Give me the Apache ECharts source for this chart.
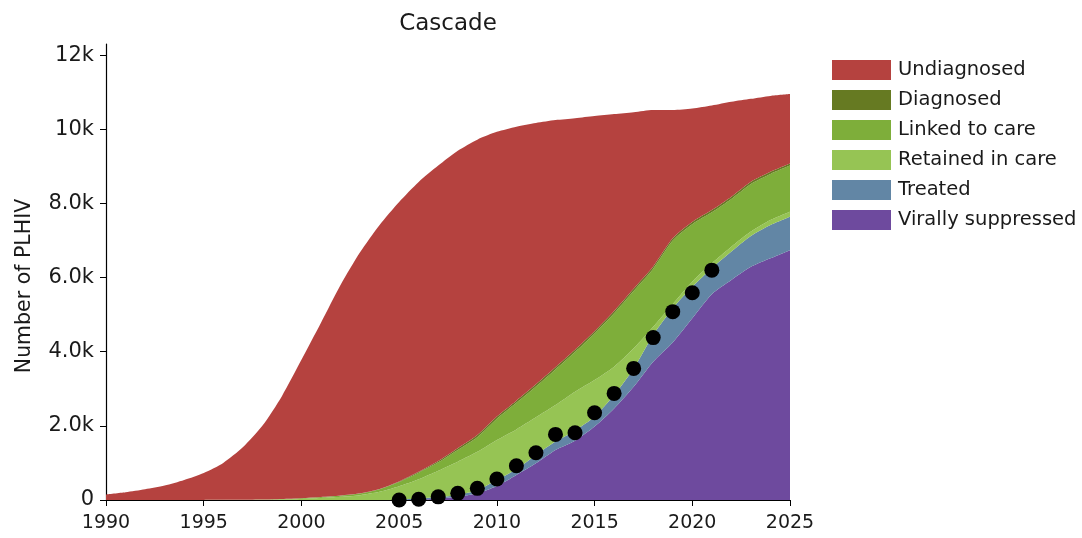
<!DOCTYPE html>
<html>
<head>
<meta charset="utf-8">
<script src="https://cdn.jsdelivr.net/npm/echarts@6/dist/echarts.min.js"></script>
<style>
html,body{margin:0;padding:0;background:#fff;}
#chart{width:1082px;height:538px;}
</style>
</head>
<body>
<div id="chart"></div>
<script>
const years = [1990,1991,1992,1993,1994,1995,1996,1997,1998,1999,2000,2001,2002,2003,2004,2005,2006,2007,2008,2009,2010,2011,2012,2013,2014,2015,2016,2017,2018,2019,2020,2021,2022,2023,2024,2025];
const virallySuppressed = [0,0,0,0,0,0,0,0,0,0,0,0,0,0,0,0,10,40,90,180,375,675,990,1350,1600,1980,2470,3055,3730,4250,4900,5550,5935,6290,6520,6740];
const treated = [0,0,0,0,0,0,0,0,0,0,0,0,0,0,0,10,30,40,45,90,165,155,225,225,270,270,360,495,720,920,850,700,765,830,895,900];
const retained = [0,0,0,0,0,1,2,4,8,15,30,55,85,130,220,360,520,710,900,1030,1080,1075,1015,985,1050,985,765,540,225,120,140,135,130,120,135,135];
const linked = [0,0,0,0,0,1,2,4,7,15,20,25,33,45,72,113,175,225,315,395,570,715,830,960,1070,1255,1445,1550,1565,1710,1550,1375,1290,1285,1245,1245];
const diagnosed = [0,0,0,0,0,0,0,0,0,0,0,0,2,5,8,17,25,35,45,55,60,60,60,60,60,60,60,60,60,60,60,60,60,60,60,60];
const undiagnosed = [150,210,290,390,540,728,996,1412,1985,2770,3730,4700,5680,6500,7120,7540,7820,7970,8025,7970,7680,7390,7050,6670,6250,5810,5310,4760,4220,3460,3060,2820,2560,2235,2045,1870];
const dataYears = [2005,2006,2007,2008,2009,2010,2011,2012,2013,2014,2015,2016,2017,2018,2019,2020,2021];
const dataValues = [0,20,85,180,315,565,925,1275,1770,1815,2355,2875,3550,4380,5080,5590,6200];
const yTicks = [0,2000,4000,6000,8000,10000,12000];

const names = ['Virally suppressed','Treated','Retained in care','Linked to care','Diagnosed','Undiagnosed'];
const colors = ['#6e4a9e','#6286a5','#96c454','#7eae3a','#667a22','#b5423f'];
const arrays = [virallySuppressed, treated, retained, linked, diagnosed, undiagnosed];

const FONT = 'DejaVu Sans';
const cats = years.map(String);
const series = arrays.map((arr, i) => ({
  name: names[i],
  type: 'line',
  stack: 'total',
  data: arr.slice(),
  symbol: 'none',
  showSymbol: false,
  smooth: 0.25,
  lineStyle: {width: 0},
  areaStyle: {color: colors[i], opacity: 1},
  itemStyle: {color: colors[i]},
  z: 2
}));
series.push({
  name: 'Data',
  type: 'scatter',
  data: dataYears.map((y, j) => [String(y), dataValues[j]]),
  symbolSize: 15,
  clip: true,
  itemStyle: {color: '#000', opacity: 1},
  z: 5
});

function fmtY(v){
  if (v === 0) return '0';
  if (v >= 10000) return (v/1000).toFixed(0) + 'k';
  return (v/1000).toFixed(1) + 'k';
}

const chart = echarts.init(document.getElementById('chart'), null, {renderer: 'canvas'});
chart.setOption({
  animation: false,
  backgroundColor: '#fff',
  title: {
    text: 'Cascade',
    left: 443, top: 8, textAlign: 'center',
    textStyle: {fontFamily: FONT, fontSize: 23, fontWeight: 'normal', color: '#1a1a1a'}
  },
  legend: {
    orient: 'vertical',
    left: 832, top: 60, padding: 0,
    itemWidth: 59, itemHeight: 20, itemGap: 10,
    data: ['Undiagnosed','Diagnosed','Linked to care','Retained in care','Treated','Virally suppressed'],
    icon: 'rect',
    textStyle: {fontFamily: FONT, fontSize: 19.5, color: '#1a1a1a', padding: [0,0,0,2]}
  },
  grid: {left: 106, right: 292, top: 44, bottom: 38, containLabel: false},
  xAxis: {
    type: 'category', data: cats, boundaryGap: false,
    splitLine: {show: false},
    axisLine: {lineStyle: {color: '#000', width: 1.2}},
    axisTick: {inside: false, length: 6, interval: 4, lineStyle: {color: '#000'}},
    axisLabel: {fontFamily: FONT, fontSize: 19, color: '#1a1a1a', margin: 14, interval: 4}
  },
  yAxis: {
    type: 'value', min: 0, max: 12300,
    name: 'Number of PLHIV', nameLocation: 'middle', nameGap: 71, nameRotate: 90,
    nameTextStyle: {fontFamily: FONT, fontSize: 20.5, color: '#1a1a1a', padding: [0, 28, 0, 0]},
    splitLine: {show: false},
    axisLine: {show: true, lineStyle: {color: '#000', width: 1.2}},
    axisTick: {show: true, length: 6, lineStyle: {color: '#000'}, customValues: yTicks},
    axisLabel: {fontFamily: FONT, fontSize: 21, color: '#1a1a1a', margin: 12, customValues: yTicks, formatter: fmtY}
  },
  series: series
});
</script>
</body>
</html>
